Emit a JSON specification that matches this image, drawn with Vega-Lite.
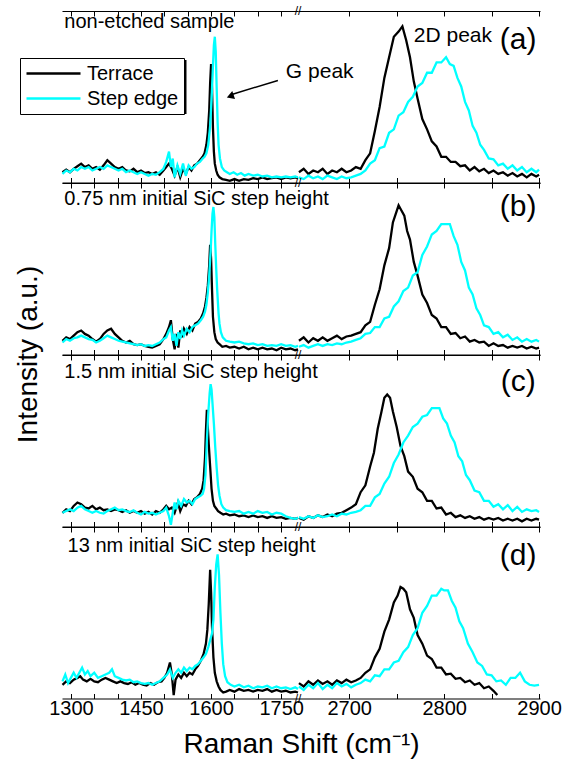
{
"$schema":"https://vega.github.io/schema/vega-lite/v6.json",
"padding":{"left":14,"top":5,"right":5,"bottom":2},
"config":{"view":{"stroke":null},"font":"Liberation Sans","text":{"font":"Liberation Sans","color":"black"},
"axis":{"domainColor":"black","domainWidth":1.2,"tickColor":"black","tickSize":-5,"tickWidth":1,"grid":false,"labelColor":"black","labelFont":"Liberation Sans","labelFontSize":20,"labelFlush":false,"labelOverlap":false,"labelPadding":5,"titleColor":"black","titleFont":"Liberation Sans","titleFontWeight":"normal","titleFontSize":28}},
"datasets":{
"aTL":[{"x":1282,"y":6},{"x":1290,"y":7.5},{"x":1298,"y":6},{"x":1306,"y":8},{"x":1314,"y":9.5},{"x":1322,"y":11},{"x":1330,"y":9},{"x":1338,"y":10},{"x":1346,"y":8},{"x":1354,"y":9},{"x":1362,"y":7.5},{"x":1370,"y":10},{"x":1378,"y":13},{"x":1386,"y":11},{"x":1394,"y":9},{"x":1402,"y":8},{"x":1410,"y":9},{"x":1418,"y":7},{"x":1426,"y":6.5},{"x":1434,"y":8},{"x":1442,"y":6},{"x":1450,"y":7},{"x":1458,"y":5.5},{"x":1466,"y":6},{"x":1474,"y":5},{"x":1482,"y":6},{"x":1490,"y":4.5},{"x":1498,"y":7},{"x":1504,"y":9},{"x":1510,"y":11},{"x":1516,"y":8},{"x":1522,"y":4},{"x":1528,"y":9},{"x":1534,"y":3},{"x":1540,"y":8},{"x":1546,"y":5},{"x":1552,"y":9},{"x":1558,"y":7},{"x":1564,"y":10},{"x":1570,"y":11},{"x":1576,"y":13},{"x":1582,"y":15},{"x":1586,"y":17},{"x":1590,"y":22},{"x":1593,"y":29},{"x":1596,"y":42},{"x":1598,"y":58},{"x":1600,"y":69},{"x":1602,"y":55},{"x":1604,"y":32},{"x":1606,"y":18},{"x":1608,"y":11},{"x":1611,"y":7},{"x":1614,"y":4.5},{"x":1618,"y":3},{"x":1624,"y":2},{"x":1632,"y":1.5},{"x":1640,"y":1},{"x":1650,"y":2},{"x":1660,"y":1},{"x":1670,"y":2},{"x":1680,"y":1.5},{"x":1690,"y":2.5},{"x":1700,"y":2},{"x":1710,"y":3},{"x":1720,"y":2},{"x":1730,"y":2.5},{"x":1740,"y":3},{"x":1750,"y":2},{"x":1760,"y":3},{"x":1770,"y":2.5},{"x":1780,"y":3},{"x":1786,"y":2.5}],
"aSL":[{"x":1282,"y":5},{"x":1290,"y":7},{"x":1298,"y":6},{"x":1306,"y":8},{"x":1314,"y":7},{"x":1322,"y":9},{"x":1330,"y":8},{"x":1338,"y":9},{"x":1346,"y":7},{"x":1354,"y":8},{"x":1362,"y":9},{"x":1370,"y":8},{"x":1378,"y":10},{"x":1386,"y":9},{"x":1394,"y":8},{"x":1402,"y":7},{"x":1410,"y":8},{"x":1418,"y":6},{"x":1426,"y":7},{"x":1434,"y":6},{"x":1442,"y":5},{"x":1450,"y":6},{"x":1458,"y":5},{"x":1466,"y":4},{"x":1474,"y":5},{"x":1482,"y":4.5},{"x":1490,"y":6},{"x":1498,"y":8},{"x":1504,"y":12},{"x":1510,"y":18},{"x":1514,"y":9},{"x":1518,"y":14},{"x":1522,"y":3},{"x":1528,"y":10},{"x":1534,"y":5},{"x":1540,"y":11},{"x":1546,"y":4},{"x":1552,"y":10},{"x":1558,"y":8},{"x":1564,"y":9},{"x":1570,"y":11},{"x":1576,"y":12},{"x":1582,"y":14},{"x":1586,"y":15},{"x":1590,"y":17},{"x":1594,"y":22},{"x":1598,"y":33},{"x":1601,"y":48},{"x":1604,"y":68},{"x":1606,"y":80},{"x":1608,"y":85},{"x":1610,"y":76},{"x":1612,"y":55},{"x":1614,"y":35},{"x":1616,"y":22},{"x":1619,"y":14},{"x":1623,"y":9},{"x":1628,"y":7},{"x":1634,"y":6},{"x":1640,"y":5},{"x":1648,"y":6},{"x":1656,"y":4.5},{"x":1664,"y":5.5},{"x":1672,"y":4},{"x":1680,"y":5},{"x":1690,"y":4},{"x":1700,"y":4.5},{"x":1710,"y":3.5},{"x":1720,"y":4},{"x":1730,"y":3},{"x":1740,"y":3.5},{"x":1750,"y":3},{"x":1760,"y":3.5},{"x":1770,"y":3},{"x":1780,"y":3.5},{"x":1786,"y":3}],
"aTR":[{"x":2647,"y":6},{"x":2652,"y":8},{"x":2657,"y":5},{"x":2662,"y":7},{"x":2667,"y":6},{"x":2672,"y":8},{"x":2677,"y":5},{"x":2682,"y":7},{"x":2687,"y":6},{"x":2692,"y":8},{"x":2697,"y":6},{"x":2702,"y":7},{"x":2707,"y":9},{"x":2712,"y":8},{"x":2717,"y":13},{"x":2722,"y":17},{"x":2727,"y":30},{"x":2732,"y":44},{"x":2737,"y":61},{"x":2742,"y":73},{"x":2747,"y":85},{"x":2752,"y":88},{"x":2756,"y":91},{"x":2760,"y":83},{"x":2764,"y":73},{"x":2768,"y":59},{"x":2772,"y":49},{"x":2777,"y":37},{"x":2782,"y":31},{"x":2787,"y":24},{"x":2792,"y":21},{"x":2797,"y":15},{"x":2802,"y":15},{"x":2807,"y":12},{"x":2812,"y":12},{"x":2817,"y":9.5},{"x":2822,"y":10},{"x":2827,"y":7},{"x":2832,"y":9},{"x":2837,"y":6.5},{"x":2842,"y":8},{"x":2847,"y":5.5},{"x":2852,"y":7},{"x":2857,"y":5},{"x":2862,"y":6},{"x":2867,"y":4},{"x":2872,"y":5.5},{"x":2877,"y":3.5},{"x":2882,"y":5},{"x":2887,"y":3},{"x":2892,"y":5},{"x":2897,"y":3.5},{"x":2900,"y":4.5}],
"aSR":[{"x":2647,"y":3},{"x":2652,"y":2},{"x":2657,"y":4},{"x":2662,"y":2.5},{"x":2667,"y":3.5},{"x":2672,"y":2},{"x":2677,"y":4},{"x":2682,"y":3},{"x":2687,"y":2},{"x":2692,"y":3.5},{"x":2697,"y":2.5},{"x":2702,"y":3},{"x":2707,"y":4},{"x":2712,"y":5},{"x":2717,"y":7},{"x":2722,"y":11},{"x":2727,"y":13},{"x":2732,"y":20},{"x":2737,"y":21},{"x":2742,"y":29},{"x":2747,"y":31},{"x":2752,"y":39},{"x":2757,"y":41},{"x":2762,"y":47},{"x":2767,"y":50},{"x":2772,"y":56},{"x":2777,"y":58},{"x":2782,"y":64},{"x":2787,"y":64},{"x":2792,"y":70},{"x":2797,"y":70},{"x":2802,"y":73},{"x":2806,"y":69},{"x":2810,"y":68},{"x":2814,"y":61},{"x":2818,"y":56},{"x":2822,"y":47},{"x":2826,"y":42},{"x":2830,"y":33},{"x":2834,"y":29},{"x":2838,"y":22},{"x":2842,"y":19},{"x":2847,"y":14},{"x":2852,"y":13.5},{"x":2857,"y":10},{"x":2862,"y":11},{"x":2867,"y":8},{"x":2872,"y":10},{"x":2877,"y":7},{"x":2882,"y":9},{"x":2887,"y":6},{"x":2892,"y":8},{"x":2897,"y":6},{"x":2900,"y":7.5}],
"bTL":[{"x":1282,"y":8},{"x":1290,"y":10},{"x":1298,"y":9},{"x":1306,"y":11},{"x":1314,"y":13},{"x":1322,"y":14},{"x":1330,"y":12},{"x":1338,"y":11},{"x":1346,"y":9},{"x":1354,"y":7.5},{"x":1362,"y":9},{"x":1370,"y":12},{"x":1378,"y":14},{"x":1386,"y":15},{"x":1394,"y":12},{"x":1402,"y":10},{"x":1410,"y":8},{"x":1418,"y":7},{"x":1426,"y":8},{"x":1434,"y":6},{"x":1442,"y":5.5},{"x":1450,"y":6},{"x":1458,"y":5},{"x":1466,"y":4.5},{"x":1474,"y":4},{"x":1482,"y":5},{"x":1490,"y":6},{"x":1498,"y":9},{"x":1504,"y":12},{"x":1510,"y":16},{"x":1514,"y":20},{"x":1518,"y":9},{"x":1522,"y":3},{"x":1526,"y":12},{"x":1530,"y":4},{"x":1534,"y":14},{"x":1538,"y":10},{"x":1542,"y":15},{"x":1548,"y":12},{"x":1554,"y":16},{"x":1560,"y":14},{"x":1566,"y":18},{"x":1572,"y":19},{"x":1578,"y":21},{"x":1583,"y":24},{"x":1587,"y":28},{"x":1590,"y":33},{"x":1593,"y":40},{"x":1596,"y":52},{"x":1598,"y":64},{"x":1600,"y":56},{"x":1602,"y":38},{"x":1604,"y":22},{"x":1607,"y":13},{"x":1610,"y":9},{"x":1614,"y":7},{"x":1618,"y":6},{"x":1624,"y":4.5},{"x":1632,"y":5},{"x":1640,"y":4},{"x":1650,"y":4.5},{"x":1660,"y":3.5},{"x":1670,"y":4.5},{"x":1680,"y":3},{"x":1690,"y":4},{"x":1700,"y":3},{"x":1710,"y":4},{"x":1720,"y":3},{"x":1730,"y":3.5},{"x":1740,"y":2.5},{"x":1750,"y":4},{"x":1760,"y":3},{"x":1770,"y":3.5},{"x":1780,"y":2.5},{"x":1786,"y":3}],
"bSL":[{"x":1282,"y":7},{"x":1290,"y":9},{"x":1298,"y":8},{"x":1306,"y":9.5},{"x":1314,"y":10},{"x":1322,"y":11},{"x":1330,"y":10},{"x":1338,"y":9},{"x":1346,"y":8.5},{"x":1354,"y":7},{"x":1362,"y":8},{"x":1370,"y":9.5},{"x":1378,"y":11},{"x":1386,"y":10},{"x":1394,"y":9},{"x":1402,"y":8},{"x":1410,"y":7.5},{"x":1418,"y":7},{"x":1426,"y":6.5},{"x":1434,"y":6},{"x":1442,"y":5.5},{"x":1450,"y":6},{"x":1458,"y":5},{"x":1466,"y":5.5},{"x":1474,"y":5},{"x":1482,"y":6},{"x":1490,"y":7},{"x":1498,"y":9},{"x":1504,"y":10},{"x":1510,"y":14},{"x":1514,"y":16},{"x":1518,"y":8},{"x":1522,"y":12},{"x":1526,"y":5},{"x":1530,"y":13},{"x":1534,"y":9},{"x":1538,"y":14},{"x":1542,"y":11},{"x":1548,"y":15},{"x":1554,"y":13},{"x":1560,"y":16},{"x":1566,"y":17},{"x":1572,"y":18},{"x":1578,"y":20},{"x":1583,"y":22},{"x":1587,"y":25},{"x":1590,"y":29},{"x":1593,"y":36},{"x":1596,"y":46},{"x":1599,"y":60},{"x":1601,"y":72},{"x":1603,"y":82},{"x":1605,"y":86},{"x":1607,"y":80},{"x":1609,"y":64},{"x":1611,"y":50},{"x":1613,"y":38},{"x":1616,"y":24},{"x":1618,"y":18},{"x":1621,"y":13},{"x":1625,"y":10},{"x":1632,"y":8},{"x":1640,"y":7.5},{"x":1650,"y":7},{"x":1660,"y":7.5},{"x":1670,"y":6.5},{"x":1680,"y":6},{"x":1690,"y":6.5},{"x":1700,"y":5.5},{"x":1710,"y":6},{"x":1720,"y":5},{"x":1730,"y":5.5},{"x":1740,"y":5},{"x":1750,"y":6},{"x":1760,"y":5},{"x":1770,"y":5.5},{"x":1780,"y":4.5},{"x":1786,"y":5}],
"bTR":[{"x":2647,"y":8},{"x":2652,"y":10},{"x":2657,"y":7},{"x":2662,"y":9.5},{"x":2667,"y":8},{"x":2672,"y":10},{"x":2677,"y":8},{"x":2682,"y":9.5},{"x":2687,"y":11},{"x":2692,"y":9},{"x":2697,"y":10.5},{"x":2702,"y":11},{"x":2707,"y":12},{"x":2712,"y":13},{"x":2717,"y":17},{"x":2722,"y":19},{"x":2727,"y":29},{"x":2732,"y":38},{"x":2737,"y":52},{"x":2742,"y":62},{"x":2746,"y":77},{"x":2749,"y":82},{"x":2752,"y":87},{"x":2755,"y":84},{"x":2758,"y":81},{"x":2761,"y":72},{"x":2764,"y":67},{"x":2768,"y":54},{"x":2772,"y":46},{"x":2777,"y":35},{"x":2782,"y":30},{"x":2787,"y":23},{"x":2792,"y":21},{"x":2797,"y":16},{"x":2802,"y":16},{"x":2807,"y":12},{"x":2812,"y":12.5},{"x":2817,"y":9.5},{"x":2822,"y":10.5},{"x":2827,"y":7.5},{"x":2832,"y":8.5},{"x":2837,"y":7},{"x":2842,"y":7.5},{"x":2847,"y":5},{"x":2852,"y":6.5},{"x":2857,"y":5},{"x":2862,"y":5.5},{"x":2867,"y":4},{"x":2872,"y":5},{"x":2877,"y":4},{"x":2882,"y":5},{"x":2887,"y":3.5},{"x":2892,"y":4.5},{"x":2897,"y":3.5},{"x":2900,"y":4}],
"bSR":[{"x":2647,"y":4.5},{"x":2652,"y":5.5},{"x":2657,"y":4},{"x":2662,"y":5},{"x":2667,"y":6},{"x":2672,"y":5},{"x":2677,"y":6},{"x":2682,"y":5.5},{"x":2687,"y":6.5},{"x":2692,"y":6},{"x":2697,"y":7},{"x":2702,"y":7.5},{"x":2707,"y":8.5},{"x":2712,"y":9.5},{"x":2717,"y":12},{"x":2722,"y":12.5},{"x":2727,"y":16},{"x":2732,"y":16},{"x":2737,"y":21},{"x":2742,"y":22},{"x":2747,"y":28},{"x":2752,"y":31},{"x":2757,"y":37},{"x":2762,"y":39},{"x":2767,"y":46},{"x":2772,"y":48},{"x":2777,"y":58},{"x":2782,"y":63},{"x":2787,"y":70},{"x":2792,"y":72},{"x":2797,"y":76},{"x":2802,"y":76},{"x":2806,"y":76},{"x":2810,"y":69},{"x":2814,"y":64},{"x":2818,"y":54},{"x":2822,"y":49},{"x":2826,"y":39},{"x":2830,"y":35},{"x":2834,"y":27},{"x":2838,"y":23},{"x":2842,"y":17},{"x":2847,"y":16},{"x":2852,"y":12},{"x":2857,"y":13},{"x":2862,"y":10},{"x":2867,"y":11.5},{"x":2872,"y":8.5},{"x":2877,"y":10},{"x":2882,"y":7.5},{"x":2887,"y":9},{"x":2892,"y":7.5},{"x":2897,"y":8.5},{"x":2900,"y":7.5}],
"cTL":[{"x":1282,"y":8},{"x":1290,"y":10},{"x":1298,"y":9},{"x":1306,"y":12},{"x":1314,"y":14},{"x":1322,"y":13},{"x":1330,"y":11},{"x":1338,"y":10.5},{"x":1346,"y":12},{"x":1354,"y":10},{"x":1362,"y":11},{"x":1370,"y":9.5},{"x":1378,"y":10},{"x":1386,"y":9},{"x":1394,"y":10},{"x":1402,"y":9.5},{"x":1410,"y":8.5},{"x":1418,"y":9.5},{"x":1426,"y":8},{"x":1434,"y":9},{"x":1442,"y":8},{"x":1450,"y":9},{"x":1458,"y":7.5},{"x":1466,"y":8.5},{"x":1474,"y":7},{"x":1482,"y":9},{"x":1490,"y":8},{"x":1498,"y":10},{"x":1504,"y":12},{"x":1510,"y":10},{"x":1516,"y":11},{"x":1522,"y":8},{"x":1529,"y":14},{"x":1534,"y":9},{"x":1540,"y":13},{"x":1546,"y":12},{"x":1552,"y":15},{"x":1558,"y":13},{"x":1564,"y":16},{"x":1570,"y":17},{"x":1576,"y":19},{"x":1581,"y":22},{"x":1584,"y":27},{"x":1587,"y":40},{"x":1589,"y":56},{"x":1591,"y":68},{"x":1593,"y":58},{"x":1595,"y":48},{"x":1598,"y":35},{"x":1601,"y":22},{"x":1604,"y":15},{"x":1607,"y":12},{"x":1611,"y":10.5},{"x":1615,"y":9},{"x":1620,"y":8},{"x":1626,"y":7},{"x":1632,"y":7.5},{"x":1640,"y":6.5},{"x":1650,"y":7},{"x":1660,"y":6},{"x":1670,"y":6.5},{"x":1680,"y":5.5},{"x":1690,"y":6.5},{"x":1700,"y":5.5},{"x":1710,"y":6},{"x":1720,"y":5},{"x":1730,"y":6},{"x":1740,"y":5},{"x":1750,"y":5.5},{"x":1760,"y":4.5},{"x":1770,"y":5},{"x":1780,"y":4.5},{"x":1786,"y":5}],
"cSL":[{"x":1282,"y":8},{"x":1290,"y":9},{"x":1298,"y":10},{"x":1306,"y":9},{"x":1314,"y":11},{"x":1322,"y":12},{"x":1330,"y":10},{"x":1338,"y":9},{"x":1346,"y":8},{"x":1354,"y":9},{"x":1362,"y":8},{"x":1370,"y":7.5},{"x":1378,"y":9},{"x":1386,"y":10},{"x":1394,"y":11},{"x":1402,"y":9.5},{"x":1410,"y":10},{"x":1418,"y":9},{"x":1426,"y":8.5},{"x":1434,"y":9.5},{"x":1442,"y":8},{"x":1450,"y":7},{"x":1458,"y":8.5},{"x":1466,"y":7.5},{"x":1474,"y":8},{"x":1482,"y":7},{"x":1490,"y":8},{"x":1498,"y":9},{"x":1504,"y":11},{"x":1510,"y":6},{"x":1514,"y":1},{"x":1518,"y":8},{"x":1522,"y":14},{"x":1526,"y":10},{"x":1530,"y":15},{"x":1536,"y":12},{"x":1542,"y":16},{"x":1548,"y":14},{"x":1554,"y":15},{"x":1560,"y":13},{"x":1566,"y":16},{"x":1572,"y":17},{"x":1578,"y":18},{"x":1582,"y":19},{"x":1585,"y":22},{"x":1588,"y":30},{"x":1591,"y":50},{"x":1594,"y":66},{"x":1597,"y":78},{"x":1599,"y":83},{"x":1601,"y":80},{"x":1603,"y":72},{"x":1606,"y":60},{"x":1609,"y":46},{"x":1612,"y":34},{"x":1615,"y":24},{"x":1618,"y":18},{"x":1622,"y":13},{"x":1626,"y":11},{"x":1632,"y":9.5},{"x":1640,"y":9},{"x":1650,"y":8.5},{"x":1660,"y":9},{"x":1670,"y":7.5},{"x":1680,"y":8.5},{"x":1690,"y":7.5},{"x":1700,"y":9},{"x":1710,"y":8},{"x":1720,"y":8.5},{"x":1730,"y":7},{"x":1740,"y":8},{"x":1750,"y":7.5},{"x":1760,"y":6},{"x":1770,"y":5},{"x":1780,"y":4.5},{"x":1786,"y":5}],
"cTR":[{"x":2647,"y":5},{"x":2652,"y":4},{"x":2657,"y":6},{"x":2662,"y":5},{"x":2667,"y":6.5},{"x":2672,"y":5.5},{"x":2677,"y":7},{"x":2682,"y":6},{"x":2687,"y":7.5},{"x":2692,"y":8},{"x":2697,"y":9.5},{"x":2702,"y":11},{"x":2707,"y":13},{"x":2712,"y":20},{"x":2717,"y":24},{"x":2722,"y":35},{"x":2726,"y":43},{"x":2730,"y":57},{"x":2734,"y":67},{"x":2737,"y":75},{"x":2740,"y":77},{"x":2743,"y":75},{"x":2746,"y":67},{"x":2750,"y":58},{"x":2754,"y":47},{"x":2758,"y":41},{"x":2762,"y":32},{"x":2767,"y":29},{"x":2772,"y":22},{"x":2777,"y":20},{"x":2782,"y":15},{"x":2787,"y":15},{"x":2792,"y":10.5},{"x":2797,"y":11},{"x":2802,"y":7},{"x":2807,"y":8},{"x":2812,"y":5.5},{"x":2817,"y":6.5},{"x":2822,"y":5},{"x":2827,"y":6},{"x":2832,"y":4.5},{"x":2837,"y":5.5},{"x":2842,"y":4},{"x":2847,"y":5},{"x":2852,"y":4},{"x":2857,"y":5},{"x":2862,"y":3.5},{"x":2867,"y":4.5},{"x":2872,"y":3.5},{"x":2877,"y":4.5},{"x":2882,"y":3},{"x":2887,"y":4.5},{"x":2892,"y":3.5},{"x":2897,"y":4.5},{"x":2900,"y":4}],
"cSR":[{"x":2647,"y":5.5},{"x":2652,"y":4.5},{"x":2657,"y":6},{"x":2662,"y":5},{"x":2667,"y":6.5},{"x":2672,"y":5.5},{"x":2677,"y":6},{"x":2682,"y":7},{"x":2687,"y":6},{"x":2692,"y":7.5},{"x":2697,"y":7},{"x":2702,"y":8},{"x":2707,"y":8.5},{"x":2712,"y":9.5},{"x":2717,"y":12},{"x":2722,"y":12},{"x":2727,"y":17},{"x":2732,"y":19},{"x":2737,"y":25},{"x":2742,"y":29},{"x":2747,"y":37},{"x":2752,"y":42},{"x":2757,"y":49},{"x":2762,"y":53},{"x":2767,"y":58},{"x":2772,"y":60},{"x":2777,"y":64},{"x":2782,"y":65},{"x":2787,"y":69},{"x":2791,"y":69},{"x":2795,"y":69},{"x":2799,"y":63},{"x":2803,"y":60},{"x":2807,"y":53},{"x":2811,"y":49},{"x":2815,"y":41},{"x":2819,"y":38},{"x":2823,"y":30},{"x":2827,"y":27},{"x":2832,"y":21},{"x":2837,"y":20},{"x":2842,"y":15},{"x":2847,"y":15},{"x":2852,"y":11.5},{"x":2857,"y":13},{"x":2862,"y":10},{"x":2867,"y":12.5},{"x":2872,"y":9},{"x":2877,"y":11.5},{"x":2882,"y":8.5},{"x":2887,"y":10},{"x":2892,"y":9},{"x":2897,"y":9.5},{"x":2900,"y":8.5}],
"dTL":[{"x":1282,"y":8},{"x":1290,"y":10},{"x":1298,"y":9},{"x":1306,"y":11},{"x":1314,"y":12},{"x":1320,"y":13},{"x":1326,"y":11},{"x":1334,"y":10},{"x":1342,"y":11.5},{"x":1350,"y":10},{"x":1358,"y":9.5},{"x":1366,"y":11},{"x":1374,"y":12},{"x":1382,"y":11},{"x":1390,"y":10},{"x":1398,"y":9},{"x":1406,"y":10},{"x":1414,"y":9},{"x":1422,"y":8.5},{"x":1430,"y":9.5},{"x":1438,"y":8},{"x":1446,"y":9},{"x":1454,"y":8},{"x":1462,"y":7.5},{"x":1470,"y":9},{"x":1478,"y":8},{"x":1486,"y":9.5},{"x":1494,"y":10},{"x":1500,"y":12},{"x":1506,"y":15},{"x":1512,"y":21},{"x":1516,"y":14},{"x":1520,"y":2},{"x":1524,"y":11},{"x":1530,"y":14},{"x":1536,"y":12},{"x":1542,"y":15},{"x":1548,"y":13},{"x":1554,"y":15},{"x":1560,"y":14},{"x":1566,"y":17},{"x":1572,"y":19},{"x":1578,"y":22},{"x":1584,"y":26},{"x":1589,"y":32},{"x":1592,"y":40},{"x":1595,"y":55},{"x":1598,"y":75},{"x":1600,"y":62},{"x":1602,"y":42},{"x":1605,"y":24},{"x":1608,"y":15},{"x":1612,"y":10},{"x":1616,"y":7},{"x":1620,"y":5},{"x":1626,"y":3.5},{"x":1632,"y":4},{"x":1640,"y":5},{"x":1650,"y":4},{"x":1660,"y":5.5},{"x":1670,"y":4.5},{"x":1680,"y":5},{"x":1690,"y":4},{"x":1700,"y":5},{"x":1710,"y":4.5},{"x":1720,"y":5.5},{"x":1730,"y":4},{"x":1740,"y":5},{"x":1750,"y":4},{"x":1760,"y":4.5},{"x":1770,"y":3.5},{"x":1780,"y":4},{"x":1786,"y":3.5}],
"dSL":[{"x":1282,"y":10},{"x":1288,"y":14},{"x":1294,"y":9},{"x":1300,"y":12},{"x":1306,"y":15},{"x":1312,"y":12},{"x":1318,"y":15},{"x":1324,"y":18},{"x":1330,"y":14},{"x":1336,"y":16},{"x":1342,"y":13},{"x":1350,"y":15},{"x":1358,"y":12},{"x":1366,"y":13},{"x":1374,"y":14},{"x":1382,"y":15},{"x":1388,"y":17},{"x":1394,"y":13},{"x":1402,"y":12},{"x":1410,"y":11},{"x":1418,"y":10.5},{"x":1426,"y":11},{"x":1434,"y":9.5},{"x":1442,"y":10},{"x":1450,"y":9},{"x":1458,"y":8.5},{"x":1466,"y":9},{"x":1474,"y":8},{"x":1482,"y":9},{"x":1490,"y":10},{"x":1498,"y":12},{"x":1506,"y":14},{"x":1512,"y":17},{"x":1518,"y":12},{"x":1524,"y":15},{"x":1530,"y":17},{"x":1536,"y":15},{"x":1542,"y":18},{"x":1548,"y":16},{"x":1554,"y":18},{"x":1560,"y":17},{"x":1566,"y":19},{"x":1572,"y":20},{"x":1578,"y":22},{"x":1584,"y":24},{"x":1589,"y":26},{"x":1594,"y":30},{"x":1598,"y":34},{"x":1602,"y":38},{"x":1605,"y":46},{"x":1608,"y":65},{"x":1611,"y":78},{"x":1614,"y":84},{"x":1617,"y":72},{"x":1620,"y":50},{"x":1623,"y":32},{"x":1626,"y":20},{"x":1630,"y":13},{"x":1635,"y":9.5},{"x":1642,"y":8},{"x":1650,"y":7},{"x":1660,"y":8},{"x":1670,"y":6.5},{"x":1680,"y":7.5},{"x":1690,"y":6},{"x":1700,"y":7},{"x":1710,"y":6.5},{"x":1720,"y":7.5},{"x":1730,"y":6},{"x":1740,"y":7},{"x":1750,"y":6},{"x":1760,"y":6.5},{"x":1770,"y":5.5},{"x":1780,"y":6.5},{"x":1786,"y":5.5}],
"dTR":[{"x":2647,"y":9},{"x":2652,"y":7},{"x":2657,"y":10},{"x":2662,"y":8},{"x":2667,"y":10.5},{"x":2672,"y":8.5},{"x":2677,"y":10},{"x":2682,"y":8},{"x":2687,"y":10.5},{"x":2692,"y":9},{"x":2697,"y":11},{"x":2702,"y":9.5},{"x":2707,"y":10.5},{"x":2712,"y":12},{"x":2717,"y":15},{"x":2722,"y":17},{"x":2727,"y":24},{"x":2732,"y":29},{"x":2737,"y":39},{"x":2742,"y":46},{"x":2747,"y":56},{"x":2751,"y":60},{"x":2754,"y":65},{"x":2757,"y":64},{"x":2760,"y":62},{"x":2764,"y":52},{"x":2768,"y":47},{"x":2772,"y":37},{"x":2777,"y":32},{"x":2782,"y":25},{"x":2787,"y":23},{"x":2792,"y":18},{"x":2797,"y":18},{"x":2802,"y":14},{"x":2807,"y":14.5},{"x":2812,"y":11.5},{"x":2817,"y":12},{"x":2822,"y":9.5},{"x":2827,"y":10.5},{"x":2832,"y":8},{"x":2837,"y":9},{"x":2842,"y":6},{"x":2847,"y":7},{"x":2852,"y":4.5},{"x":2856,"y":2}],
"dSR":[{"x":2647,"y":7},{"x":2652,"y":5},{"x":2657,"y":8},{"x":2662,"y":6},{"x":2667,"y":9},{"x":2672,"y":5.5},{"x":2677,"y":8},{"x":2682,"y":6},{"x":2687,"y":9},{"x":2692,"y":7},{"x":2697,"y":8.5},{"x":2702,"y":6.5},{"x":2707,"y":8},{"x":2712,"y":9},{"x":2717,"y":11},{"x":2722,"y":10},{"x":2727,"y":13.5},{"x":2732,"y":13},{"x":2737,"y":17},{"x":2742,"y":17},{"x":2747,"y":21},{"x":2752,"y":22},{"x":2757,"y":27},{"x":2762,"y":30},{"x":2767,"y":37},{"x":2772,"y":41},{"x":2777,"y":50},{"x":2782,"y":54},{"x":2787,"y":60},{"x":2792,"y":60},{"x":2797,"y":64},{"x":2800,"y":63},{"x":2804,"y":63},{"x":2808,"y":57},{"x":2812,"y":53},{"x":2816,"y":45},{"x":2820,"y":41},{"x":2825,"y":32},{"x":2830,"y":27},{"x":2835,"y":21},{"x":2840,"y":19},{"x":2845,"y":14},{"x":2850,"y":13.5},{"x":2855,"y":10},{"x":2860,"y":10.5},{"x":2865,"y":8},{"x":2870,"y":12},{"x":2875,"y":12},{"x":2880,"y":15},{"x":2885,"y":10},{"x":2890,"y":8},{"x":2895,"y":7.5},{"x":2900,"y":8}]
},
"columns":2,
"spacing":0,
"bounds":"flush",
"concat":[
 {"width":236,"height":171.5,"resolve":{"axis":{"x":"independent"}},"layer":[
  {"data":{"name":"aTL"},"mark":{"type":"line","strokeWidth":2.3},"encoding":{
   "x":{"field":"x","type":"quantitative","scale":{"domain":[1281,1786],"nice":false,"zero":false},"axis":{"orient":"bottom","values":[1300,1350,1400,1450,1500,1550,1600,1650,1700,1750],"labels":false,"title":null}},
   "y":{"field":"y","type":"quantitative","scale":{"domain":[0,100],"nice":false,"zero":false},"axis":{"orient":"left","ticks":false,"labels":false,"title":null}},
   "color":{"datum":"Terrace","type":"nominal","scale":{"domain":["Terrace","Step edge"],"range":["#000000","#00FFFF"]},"legend":{"orient":"none","legendX":-42,"legendY":47,"title":null,"direction":"vertical","strokeColor":"black","fillColor":"white","padding":5,"symbolType":"M-1,0H5","symbolSize":324,"symbolStrokeWidth":2.5,"labelFontSize":20,"labelFont":"Liberation Sans","labelColor":"black","rowPadding":4,"labelOffset":41,"cornerRadius":0}}}},
  {"data":{"name":"aSL"},"mark":{"type":"line","strokeWidth":2.3},"encoding":{
   "x":{"field":"x","type":"quantitative","axis":{"orient":"top","values":[1300,1350,1400,1450,1500,1550,1600,1650,1700,1750],"labels":false,"title":null}},
   "y":{"field":"y","type":"quantitative","axis":{"orient":"left","ticks":false,"labels":false,"title":null}},
   "color":{"datum":"Step edge","type":"nominal"}}},
  {"data":{"values":[{}]},"mark":{"type":"rect","color":"black"},"encoding":{"x":{"datum":1193.3,"type":"quantitative","axis":null},"x2":{"datum":1547.4},"y":{"datum":71.4,"type":"quantitative","axis":null},"y2":{"datum":39.9}}},
  {"data":{"values":[{}]},"mark":{"type":"text","text":"non-etched sample","align":"left","baseline":"alphabetic","fontSize":20},"encoding":{"x":{"datum":1286,"type":"quantitative","axis":null},"y":{"datum":89.9,"type":"quantitative","axis":null}}},
  {"data":{"values":[{}]},"mark":{"type":"text","text":"G peak","align":"left","baseline":"middle","fontSize":21},"encoding":{"x":{"datum":1760,"type":"quantitative","axis":null},"y":{"datum":64.5,"type":"quantitative","axis":null}}},
  {"data":{"values":[{}]},"mark":{"type":"rule","color":"black","strokeWidth":1.5},"encoding":{"x":{"datum":1743,"type":"quantitative","axis":null},"y":{"datum":59.5,"type":"quantitative","axis":null},"x2":{"datum":1646},"y2":{"datum":51.5}}},
  {"data":{"values":[{}]},"mark":{"type":"point","shape":"triangle-left","filled":true,"color":"black","size":70,"angle":341,"opacity":1},"encoding":{"x":{"datum":1641,"type":"quantitative","axis":null},"y":{"datum":50.3,"type":"quantitative","axis":null}}},
  {"data":{"values":[{}]},"mark":{"type":"text","text":"//","align":"center","baseline":"middle","fontSize":12},"encoding":{"x":{"datum":1786,"type":"quantitative","axis":null},"y":{"datum":100,"type":"quantitative","axis":null}}}
 ]},
 {"width":242,"height":171.5,"resolve":{"axis":{"x":"independent"}},"layer":[
  {"data":{"name":"aTR"},"mark":{"type":"line","strokeWidth":2.3},"encoding":{
   "x":{"field":"x","type":"quantitative","scale":{"domain":[2646,2901],"nice":false,"zero":false},"axis":{"orient":"bottom","values":[2700,2750,2800,2850,2900],"labels":false,"title":null}},
   "y":{"field":"y","type":"quantitative","scale":{"domain":[0,100],"nice":false,"zero":false},"axis":{"orient":"right","ticks":false,"labels":false,"title":null}},
   "color":{"datum":"Terrace","type":"nominal"}}},
  {"data":{"name":"aSR"},"mark":{"type":"line","strokeWidth":2.3},"encoding":{
   "x":{"field":"x","type":"quantitative","axis":{"orient":"top","values":[2700,2750,2800,2850,2900],"labels":false,"title":null}},
   "y":{"field":"y","type":"quantitative","axis":{"orient":"right","ticks":false,"labels":false,"title":null}},
   "color":{"datum":"Step edge","type":"nominal"}}},
  {"data":{"values":[{}]},"mark":{"type":"text","text":"2D peak","align":"left","baseline":"middle","fontSize":21},"encoding":{"x":{"datum":2768,"type":"quantitative","axis":null},"y":{"datum":85.2,"type":"quantitative","axis":null}}},
  {"data":{"values":[{}]},"mark":{"type":"text","text":"(a)","align":"center","baseline":"middle","fontSize":30},"encoding":{"x":{"datum":2878,"type":"quantitative","axis":null},"y":{"datum":82.8,"type":"quantitative","axis":null}}}
 ]},
 {"width":236,"height":171.5,"resolve":{"axis":{"x":"independent"}},"layer":[
  {"data":{"name":"bTL"},"mark":{"type":"line","strokeWidth":2.3},"encoding":{
   "x":{"field":"x","type":"quantitative","scale":{"domain":[1281,1786],"nice":false,"zero":false},"axis":{"orient":"bottom","values":[1300,1350,1400,1450,1500,1550,1600,1650,1700,1750],"labels":false,"title":null}},
   "y":{"field":"y","type":"quantitative","scale":{"domain":[0,100],"nice":false,"zero":false},"axis":{"orient":"left","ticks":false,"labels":false,"title":null}},
   "color":{"datum":"Terrace","type":"nominal"}}},
  {"data":{"name":"bSL"},"mark":{"type":"line","strokeWidth":2.3},"encoding":{
   "x":{"field":"x","type":"quantitative","axis":{"orient":"top","values":[1300,1350,1400,1450,1500,1550,1600,1650,1700,1750],"labels":false,"title":null}},
   "y":{"field":"y","type":"quantitative","axis":{"orient":"left","ticks":false,"labels":false,"title":null}},
   "color":{"datum":"Step edge","type":"nominal"}}},
  {"data":{"values":[{}]},"mark":{"type":"text","text":"0.75 nm initial SiC step height","align":"left","baseline":"alphabetic","fontSize":20},"encoding":{"x":{"datum":1286,"type":"quantitative","axis":null},"y":{"datum":87.3,"type":"quantitative","axis":null}}},
  {"data":{"values":[{}]},"mark":{"type":"text","text":"Intensity (a.u.)","align":"center","baseline":"middle","fontSize":28,"angle":270},"encoding":{"x":{"datum":1210,"type":"quantitative","axis":null},"y":{"datum":0,"type":"quantitative","axis":null}}},
  {"data":{"values":[{}]},"mark":{"type":"text","text":"//","align":"center","baseline":"middle","fontSize":12},"encoding":{"x":{"datum":1786,"type":"quantitative","axis":null},"y":{"datum":100,"type":"quantitative","axis":null}}}
 ]},
 {"width":242,"height":171.5,"resolve":{"axis":{"x":"independent"}},"layer":[
  {"data":{"name":"bTR"},"mark":{"type":"line","strokeWidth":2.3},"encoding":{
   "x":{"field":"x","type":"quantitative","scale":{"domain":[2646,2901],"nice":false,"zero":false},"axis":{"orient":"bottom","values":[2700,2750,2800,2850,2900],"labels":false,"title":null}},
   "y":{"field":"y","type":"quantitative","scale":{"domain":[0,100],"nice":false,"zero":false},"axis":{"orient":"right","ticks":false,"labels":false,"title":null}},
   "color":{"datum":"Terrace","type":"nominal"}}},
  {"data":{"name":"bSR"},"mark":{"type":"line","strokeWidth":2.3},"encoding":{
   "x":{"field":"x","type":"quantitative","axis":{"orient":"top","values":[2700,2750,2800,2850,2900],"labels":false,"title":null}},
   "y":{"field":"y","type":"quantitative","axis":{"orient":"right","ticks":false,"labels":false,"title":null}},
   "color":{"datum":"Step edge","type":"nominal"}}},
  {"data":{"values":[{}]},"mark":{"type":"text","text":"(b)","align":"center","baseline":"middle","fontSize":30},"encoding":{"x":{"datum":2878,"type":"quantitative","axis":null},"y":{"datum":86.2,"type":"quantitative","axis":null}}}
 ]},
 {"width":236,"height":171.5,"resolve":{"axis":{"x":"independent"}},"layer":[
  {"data":{"name":"cTL"},"mark":{"type":"line","strokeWidth":2.3},"encoding":{
   "x":{"field":"x","type":"quantitative","scale":{"domain":[1281,1786],"nice":false,"zero":false},"axis":{"orient":"bottom","values":[1300,1350,1400,1450,1500,1550,1600,1650,1700,1750],"labels":false,"title":null}},
   "y":{"field":"y","type":"quantitative","scale":{"domain":[0,100],"nice":false,"zero":false},"axis":{"orient":"left","ticks":false,"labels":false,"title":null}},
   "color":{"datum":"Terrace","type":"nominal"}}},
  {"data":{"name":"cSL"},"mark":{"type":"line","strokeWidth":2.3},"encoding":{
   "x":{"field":"x","type":"quantitative","axis":{"orient":"top","values":[1300,1350,1400,1450,1500,1550,1600,1650,1700,1750],"labels":false,"title":null}},
   "y":{"field":"y","type":"quantitative","axis":{"orient":"left","ticks":false,"labels":false,"title":null}},
   "color":{"datum":"Step edge","type":"nominal"}}},
  {"data":{"values":[{}]},"mark":{"type":"text","text":"1.5 nm initial SiC step height","align":"left","baseline":"alphabetic","fontSize":20},"encoding":{"x":{"datum":1286,"type":"quantitative","axis":null},"y":{"datum":86.7,"type":"quantitative","axis":null}}},
  {"data":{"values":[{}]},"mark":{"type":"text","text":"//","align":"center","baseline":"middle","fontSize":12},"encoding":{"x":{"datum":1786,"type":"quantitative","axis":null},"y":{"datum":100,"type":"quantitative","axis":null}}}
 ]},
 {"width":242,"height":171.5,"resolve":{"axis":{"x":"independent"}},"layer":[
  {"data":{"name":"cTR"},"mark":{"type":"line","strokeWidth":2.3},"encoding":{
   "x":{"field":"x","type":"quantitative","scale":{"domain":[2646,2901],"nice":false,"zero":false},"axis":{"orient":"bottom","values":[2700,2750,2800,2850,2900],"labels":false,"title":null}},
   "y":{"field":"y","type":"quantitative","scale":{"domain":[0,100],"nice":false,"zero":false},"axis":{"orient":"right","ticks":false,"labels":false,"title":null}},
   "color":{"datum":"Terrace","type":"nominal"}}},
  {"data":{"name":"cSR"},"mark":{"type":"line","strokeWidth":2.3},"encoding":{
   "x":{"field":"x","type":"quantitative","axis":{"orient":"top","values":[2700,2750,2800,2850,2900],"labels":false,"title":null}},
   "y":{"field":"y","type":"quantitative","axis":{"orient":"right","ticks":false,"labels":false,"title":null}},
   "color":{"datum":"Step edge","type":"nominal"}}},
  {"data":{"values":[{}]},"mark":{"type":"text","text":"(c)","align":"center","baseline":"middle","fontSize":30},"encoding":{"x":{"datum":2878,"type":"quantitative","axis":null},"y":{"datum":84.2,"type":"quantitative","axis":null}}}
 ]},
 {"width":236,"height":171.5,"resolve":{"axis":{"x":"independent"}},"layer":[
  {"data":{"name":"dTL"},"mark":{"type":"line","strokeWidth":2.3},"encoding":{
   "x":{"field":"x","type":"quantitative","scale":{"domain":[1281,1786],"nice":false,"zero":false},"axis":{"orient":"bottom","values":[1300,1350,1400,1450,1500,1550,1600,1650,1700,1750],"format":"d","labelExpr":"datum.value % 150 == 100 ? datum.label : ''","title":"Raman Shift (cm⁻¹)","titleX":239,"titleY":54,"titleBaseline":"alphabetic","titleAlign":"center","titleFontSize":28}},
   "y":{"field":"y","type":"quantitative","scale":{"domain":[0,100],"nice":false,"zero":false},"axis":{"orient":"left","ticks":false,"labels":false,"title":null}},
   "color":{"datum":"Terrace","type":"nominal"}}},
  {"data":{"name":"dSL"},"mark":{"type":"line","strokeWidth":2.3},"encoding":{
   "x":{"field":"x","type":"quantitative","axis":{"orient":"top","values":[1300,1350,1400,1450,1500,1550,1600,1650,1700,1750],"labels":false,"title":null}},
   "y":{"field":"y","type":"quantitative","axis":{"orient":"left","ticks":false,"labels":false,"title":null}},
   "color":{"datum":"Step edge","type":"nominal"}}},
  {"data":{"values":[{}]},"mark":{"type":"text","text":"13 nm initial SiC step height","align":"left","baseline":"alphabetic","fontSize":20},"encoding":{"x":{"datum":1293,"type":"quantitative","axis":null},"y":{"datum":85.4,"type":"quantitative","axis":null}}},
  {"data":{"values":[{}]},"mark":{"type":"text","text":"//","align":"center","baseline":"middle","fontSize":12},"encoding":{"x":{"datum":1786,"type":"quantitative","axis":null},"y":{"datum":100,"type":"quantitative","axis":null}}},
  {"data":{"values":[{}]},"mark":{"type":"text","text":"//","align":"center","baseline":"middle","fontSize":12},"encoding":{"x":{"datum":1786,"type":"quantitative","axis":null},"y":{"datum":0,"type":"quantitative","axis":null}}}
 ]},
 {"width":242,"height":171.5,"resolve":{"axis":{"x":"independent"}},"layer":[
  {"data":{"name":"dTR"},"mark":{"type":"line","strokeWidth":2.3},"encoding":{
   "x":{"field":"x","type":"quantitative","scale":{"domain":[2646,2901],"nice":false,"zero":false},"axis":{"orient":"bottom","values":[2700,2750,2800,2850,2900],"format":"d","labelExpr":"datum.value % 100 == 0 ? datum.label : ''","title":null}},
   "y":{"field":"y","type":"quantitative","scale":{"domain":[0,100],"nice":false,"zero":false},"axis":{"orient":"right","ticks":false,"labels":false,"title":null}},
   "color":{"datum":"Terrace","type":"nominal"}}},
  {"data":{"name":"dSR"},"mark":{"type":"line","strokeWidth":2.3},"encoding":{
   "x":{"field":"x","type":"quantitative","axis":{"orient":"top","values":[2700,2750,2800,2850,2900],"labels":false,"title":null}},
   "y":{"field":"y","type":"quantitative","axis":{"orient":"right","ticks":false,"labels":false,"title":null}},
   "color":{"datum":"Step edge","type":"nominal"}}},
  {"data":{"values":[{}]},"mark":{"type":"text","text":"(d)","align":"center","baseline":"middle","fontSize":30},"encoding":{"x":{"datum":2878,"type":"quantitative","axis":null},"y":{"datum":83,"type":"quantitative","axis":null}}}
 ]}
]
}
